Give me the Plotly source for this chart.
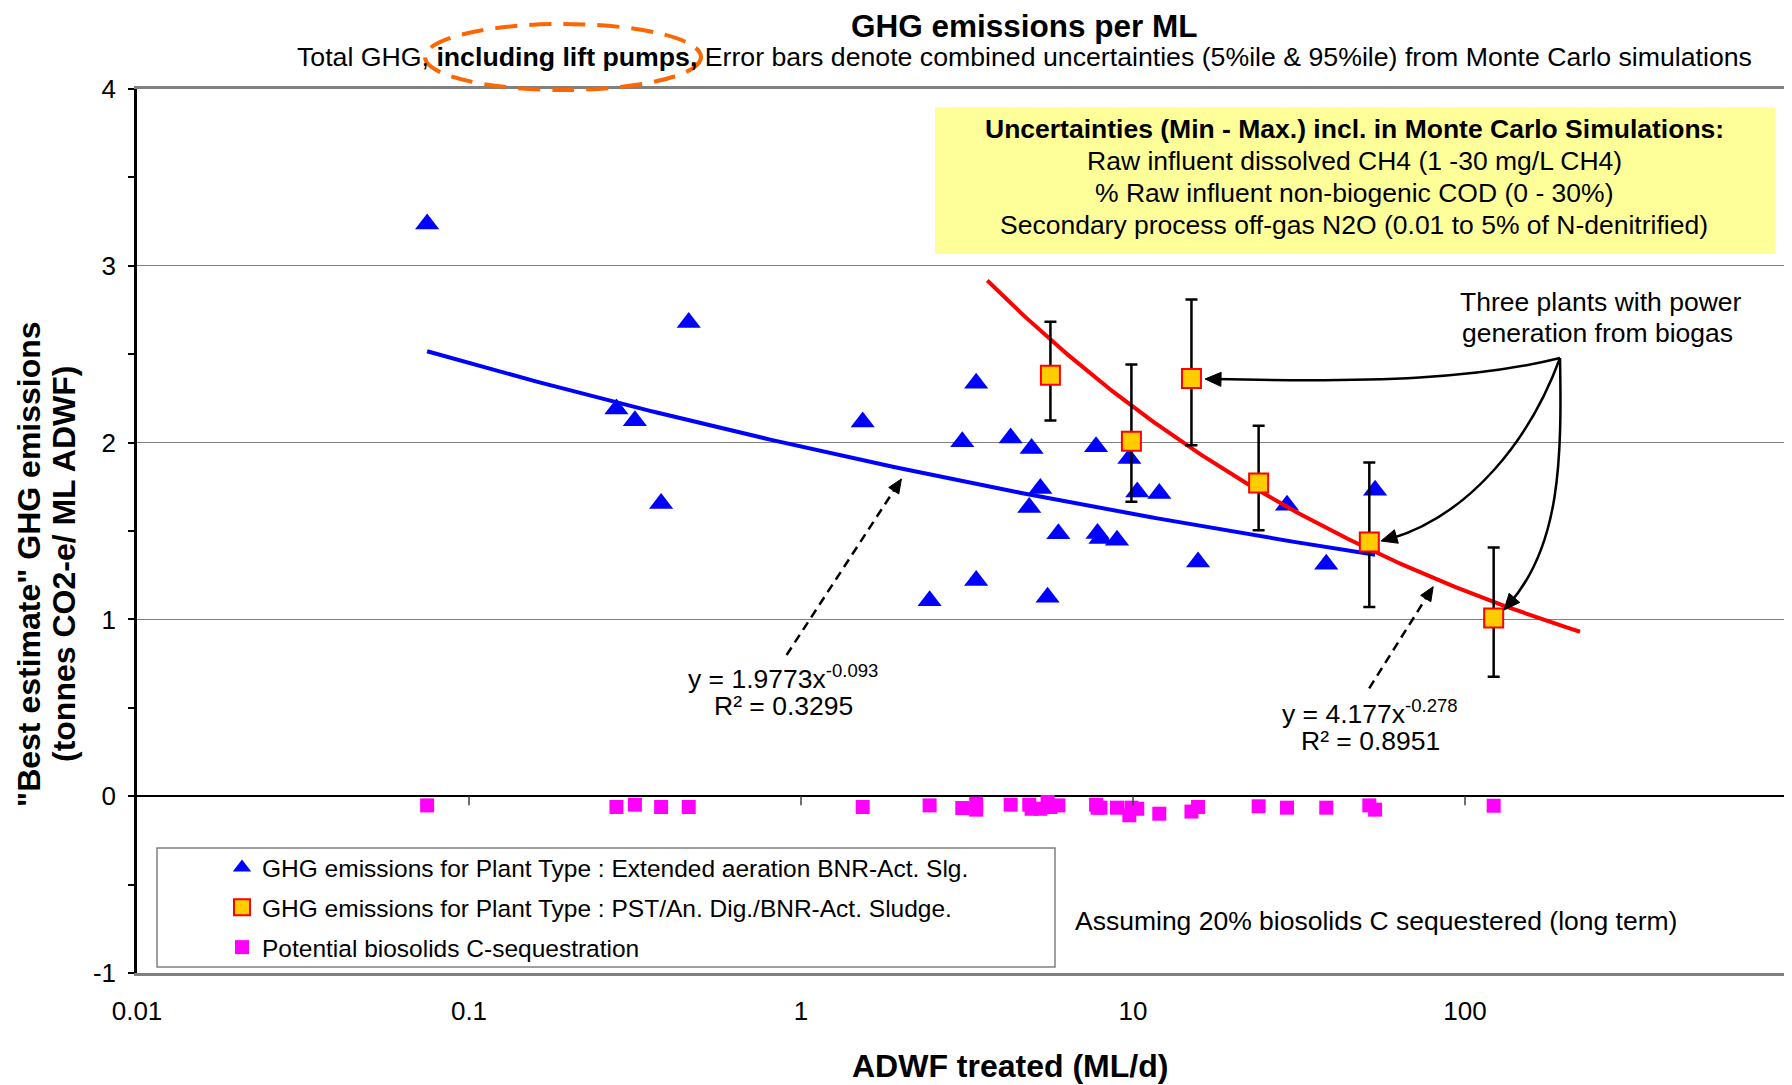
import numpy as np
import plotly.graph_objects as go

# ---------------- data ----------------
# Extended aeration BNR-Act. Slg. plants
ext_x = [0.0748, 0.278, 0.316, 0.379, 0.459, 1.534, 2.44, 3.06, 3.37, 3.37,
         4.28, 4.87, 4.95, 5.26, 5.53, 5.96, 7.74, 7.82, 7.98, 8.95,
         9.75, 10.3, 12.0, 15.7, 29.1, 38.2, 53.6]
ext_y = [3.236, 2.19, 2.123, 1.656, 2.68, 2.116, 1.105, 2.005, 2.336, 1.22,
         2.026, 1.633, 1.967, 1.740, 1.125, 1.484, 1.976, 1.486, 1.457, 1.448,
         1.910, 1.721, 1.712, 1.325, 1.646, 1.312, 1.731]

# PST/An. Dig./BNR-Act. Sludge plants (with 5%ile / 95%ile)
pst_x = [5.64, 9.89, 15.0, 23.9, 51.5, 122]
pst_y = [2.381, 2.008, 2.363, 1.772, 1.438, 1.008]
pst_hi = [2.683, 2.442, 2.810, 2.095, 1.887, 1.406]
pst_lo = [2.125, 1.665, 1.985, 1.504, 1.070, 0.675]

# Potential biosolids C-sequestration
seq_x = [0.0748, 0.278, 0.316, 0.379, 0.459, 1.534, 2.44, 3.06, 3.37, 3.37,
         4.28, 4.87, 4.95, 5.26, 5.53, 5.64, 5.96, 7.74, 7.82, 7.98,
         8.95, 9.75, 9.89, 10.3, 12.0, 15.0, 15.7, 23.9, 29.1, 38.2,
         51.5, 53.6, 122]
seq_y = [-0.052, -0.061, -0.048, -0.061, -0.061, -0.061, -0.052, -0.067, -0.042, -0.076,
         -0.048, -0.048, -0.071, -0.071, -0.033, -0.061, -0.052, -0.048, -0.065, -0.065,
         -0.065, -0.108, -0.065, -0.071, -0.099, -0.087, -0.061, -0.057, -0.065, -0.065,
         -0.052, -0.076, -0.054]

# power-law trendlines y = a * x^b (as displayed on chart)
blue_fit = {"a": 1.9773, "b": -0.093, "r2": "0.3295"}
red_fit = {"a": 4.177, "b": -0.278, "r2": "0.8951", "backward": 2, "forward": 100}

x_tick_vals = [0.01, 0.1, 1, 10, 100]
x_tick_text = ["0.01", "0.1", "1", "10", "100"]
y_tick_vals = [-1, 0, 1, 2, 3, 4]
y_tick_text = ["-1", "0", "1", "2", "3", "4"]

# ---------------- layout helpers ----------------
OFF = 8                      # page body margin
W, H = 1792 - OFF, 1085 - OFF
ML, MT = 137 - OFF, 89 - OFF
PW = W - ML
PH = (973 - OFF) - MT
MB = H - MT - PH
DECADE = 332.0
XLOG0 = -2.0
XLOG1 = XLOG0 + PW / DECADE
FONT = "Arial, Liberation Sans, sans-serif"


def px(xf):
    return (xf - OFF - ML) / PW


def py(yf):
    return (MT + PH - (yf - OFF)) / PH


def lx(v):
    return (np.log10(v) - XLOG0) / (XLOG1 - XLOG0)


fig = go.Figure()

# triangles
fig.add_trace(go.Scatter(
    x=ext_x, y=ext_y, mode="markers",
    name="GHG emissions for Plant Type : Extended aeration BNR-Act. Slg.",
    legendgroup="a",
    marker=dict(symbol="triangle-up", size=21, color="#0000FF", line=dict(width=0))))

# trendlines
bx = np.logspace(np.log10(min(ext_x)), np.log10(max(ext_x)), 200)
fig.add_trace(go.Scatter(x=bx, y=blue_fit["a"] * bx ** blue_fit["b"], mode="lines",
                         line=dict(color="#0000FF", width=4), showlegend=False, hoverinfo="skip"))
rx = np.logspace(np.log10(min(pst_x) - red_fit["backward"]),
                 np.log10(max(pst_x) + red_fit["forward"]), 200)
fig.add_trace(go.Scatter(x=rx, y=red_fit["a"] * rx ** red_fit["b"], mode="lines",
                         line=dict(color="#FF0000", width=4), showlegend=False, hoverinfo="skip"))

# squares with error bars
fig.add_trace(go.Scatter(
    x=pst_x, y=pst_y, mode="markers",
    name="GHG emissions for Plant Type : PST/An. Dig./BNR-Act. Sludge.",
    legendgroup="b",
    marker=dict(symbol="square", size=19, color="#FFCC00", line=dict(color="#FF0000", width=2)),
    error_y=dict(type="data", symmetric=False,
                 array=[h - v for h, v in zip(pst_hi, pst_y)],
                 arrayminus=[v - l for v, l in zip(pst_y, pst_lo)],
                 color="black", thickness=2.5, width=6)))

# sequestration
fig.add_trace(go.Scatter(
    x=seq_x, y=seq_y, mode="markers",
    name="Potential biosolids C-sequestration",
    legendgroup="c",
    marker=dict(symbol="square", size=14, color="#FF00FF", line=dict(width=0))))

shapes = []
annotations = []

# legend frame
shapes.append(dict(type="rect", xref="paper", yref="paper",
                   x0=px(157), x1=px(1055), y0=py(967), y1=py(848),
                   line=dict(color="#808080", width=1.5), fillcolor="white", layer="above"))

# yellow box
shapes.append(dict(type="rect", xref="paper", yref="paper",
                   x0=px(935), x1=px(1775), y0=py(254), y1=py(107),
                   line=dict(width=0), fillcolor="#FFFF99", layer="below"))

# ticks on the zero line
y0p = (0 - (-1)) / 5.0
for v in x_tick_vals[1:]:
    shapes.append(dict(type="line", xref="paper", yref="paper",
                       x0=lx(v), x1=lx(v), y0=y0p, y1=y0p - 9 / PH,
                       line=dict(color="#404040", width=1.5)))

# orange dashed ellipse
shapes.append(dict(type="circle", xref="paper", yref="paper",
                   x0=px(425), x1=px(701), y0=py(90), y1=py(24),
                   line=dict(color="#FF6600", width=4, dash="22px,12px")))


def path_px(d):
    out = []
    for tok in d:
        if isinstance(tok, str):
            out.append(tok)
        else:
            out.append(f"{px(tok[0]):.5f},{py(tok[1]):.5f}")
    return " ".join(out)


def arrow_head(tip, back, length=16, half=7):
    dx, dy = back[0] - tip[0], back[1] - tip[1]
    n = (dx * dx + dy * dy) ** 0.5
    ux, uy = dx / n, dy / n
    nx, ny = -uy, ux
    bx_, by_ = tip[0] + ux * length, tip[1] + uy * length
    p1 = (bx_ + nx * half, by_ + ny * half)
    p2 = (bx_ - nx * half, by_ - ny * half)
    shapes.append(dict(type="path", xref="paper", yref="paper",
                       path=path_px(["M", tip, "L", p1, "L", p2, "Z"]),
                       fillcolor="black", line=dict(color="black", width=1)))


# curved arrows
curves = [
    ["M", (1560, 358), "C", (1480, 378), (1380, 383), (1215, 379)],
    ["M", (1560, 358), "C", (1530, 440), (1470, 515), (1390, 539)],
    ["M", (1560, 358), "C", (1562, 460), (1560, 545), (1510, 603)],
]
for c in curves:
    shapes.append(dict(type="path", xref="paper", yref="paper", path=path_px(c),
                       line=dict(color="black", width=2.5)))

arrow_head((1205, 379), (1380, 383))
arrow_head((1381, 541), (1470, 515))
arrow_head((1504, 610), (1560, 545))

# dashed arrows
for tail, tip in [((786.6, 655), (901.4, 479)), ((1369.2, 688.3), (1433.2, 586.7))]:
    shapes.append(dict(type="line", xref="paper", yref="paper",
                       x0=px(tail[0]), y0=py(tail[1]), x1=px(tip[0]), y1=py(tip[1]),
                       line=dict(color="black", width=2.5, dash="9px,6px")))
    arrow_head(tip, tail, length=14, half=6)


def text(xf, yf, s, size=26.5, bold=False, **kw):
    d = dict(x=px(xf), y=py(yf), xref="paper", yref="paper", showarrow=False,
             text=(f"<b>{s}</b>" if bold else s),
             font=dict(family=FONT, size=size, color="black"),
             xanchor="center", yanchor="middle")
    d.update(kw)
    annotations.append(d)


text(1024, 26, "GHG emissions per ML", size=31.5, bold=True)
text(1024, 57, "Total GHG, <b>including lift pumps,</b> Error bars denote combined "
               "uncertainties (5%ile &amp; 95%ile) from Monte Carlo simulations", size=26.7)
text(29, 564, "\"Best estimate\" GHG emissions", size=32, bold=True, textangle=-90)
text(64, 564, "(tonnes CO2-e/ ML ADWF)", size=32, bold=True, textangle=-90)
text(1010, 1066, "ADWF treated (ML/d)", size=32, bold=True)

box_lines = ["<b>Uncertainties (Min - Max.) incl. in Monte Carlo Simulations:</b>",
             "Raw influent dissolved CH4 (1 -30 mg/L CH4)",
             "% Raw influent non-biogenic COD (0 - 30%)",
             "Secondary process off-gas N2O (0.01 to 5% of N-denitrified)"]
for i, s in enumerate(box_lines):
    text(1354, 129 + 32 * i, s)

text(1601, 302, "Three plants with power")
text(1597, 333, "generation from biogas")
text(783, 677, f"y = {blue_fit['a']}x<sup>{blue_fit['b']}</sup>")
text(783, 706, f"R² = {blue_fit['r2']}")
text(1370, 712, f"y = {red_fit['a']}x<sup>{red_fit['b']}</sup>")
text(1370, 741, f"R² = {red_fit['r2']}")
text(1376, 921, "Assuming 20% biosolids C sequestered (long term)")

fig.update_layout(
    width=W, height=H, autosize=False,
    margin=dict(l=ML, r=0, t=MT, b=MB, pad=0),
    paper_bgcolor="white", plot_bgcolor="white",
    font=dict(family=FONT, size=25, color="black"),
    showlegend=True,
    legend=dict(x=px(222), xanchor="left", y=py(845), yanchor="top",
                bgcolor="rgba(0,0,0,0)", borderwidth=0,
                font=dict(family=FONT, size=24.5, color="black"),
                traceorder="grouped", tracegroupgap=5, itemsizing="trace"),
    xaxis=dict(type="log", range=[XLOG0, XLOG1], tickvals=x_tick_vals, ticktext=x_tick_text,
               ticks="", showgrid=False, zeroline=False,
               showline=True, linecolor="#808080", linewidth=3, mirror=True,
               tickfont=dict(family=FONT, size=26, color="black"), ticklabelstandoff=13),
    yaxis=dict(range=[-1, 4], tickvals=y_tick_vals, ticktext=y_tick_text,
               ticks="outside", ticklen=6, tickcolor="black", tickwidth=1.5,
               minor=dict(dtick=0.5, ticks="outside", ticklen=6, tickcolor="black", showgrid=False),
               showgrid=True, gridcolor="#808080", gridwidth=1,
               zeroline=True, zerolinecolor="black", zerolinewidth=1.5,
               showline=True, linecolor="black", linewidth=2.5,
               tickfont=dict(family=FONT, size=26, color="black"), ticklabelstandoff=7),
    shapes=shapes, annotations=annotations,
)

fig.write_html("out.html")
